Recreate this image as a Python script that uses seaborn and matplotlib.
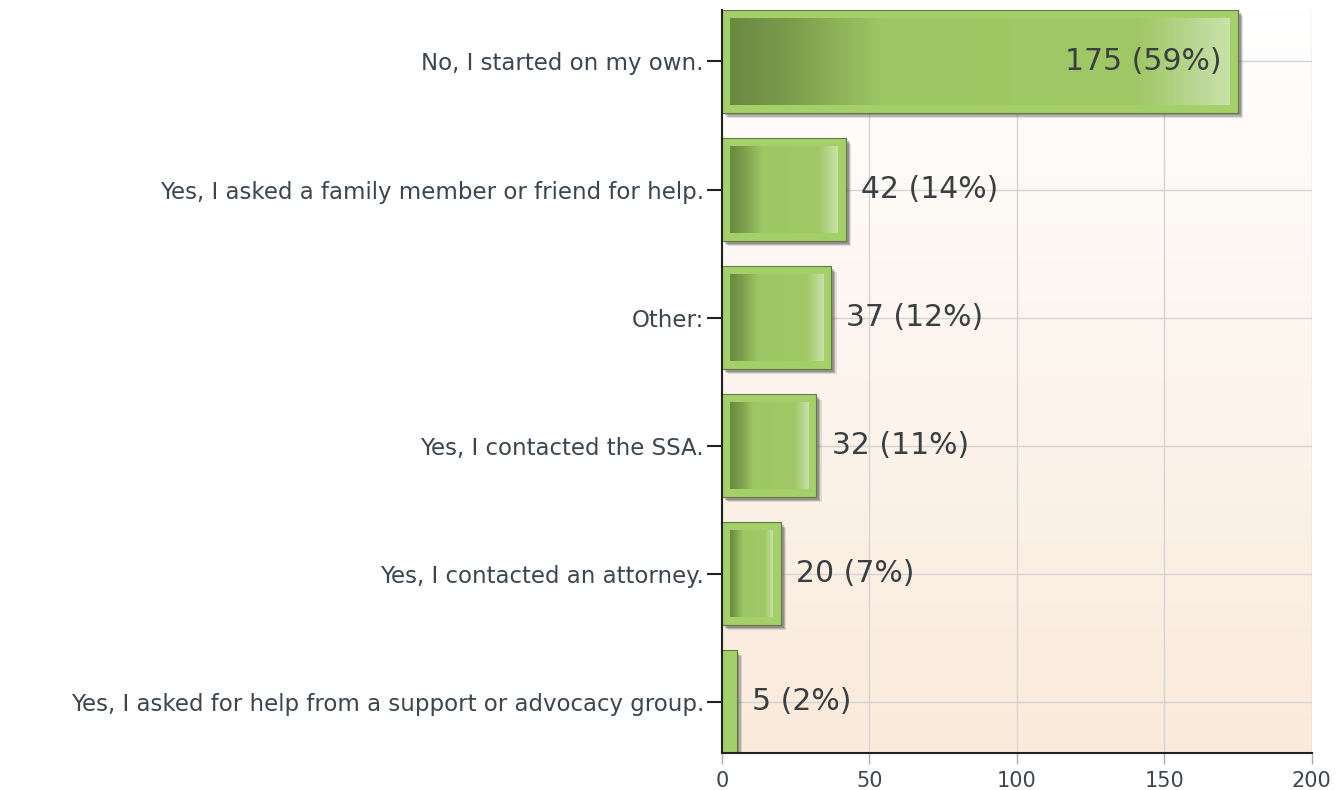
import numpy as np
import pandas as pd
import seaborn as sns
import matplotlib
matplotlib.use('Agg')
import matplotlib.pyplot as plt
from matplotlib import patheffects as pe
from matplotlib.colors import LinearSegmentedColormap

answers = [
  'No, I started on my own.',
  'Yes, I asked a family member or friend for help.',
  'Other:',
  'Yes, I contacted the SSA.',
  'Yes, I contacted an attorney.',
  'Yes, I asked for help from a support or advocacy group.',
]
counts = [175, 42, 37, 32, 20, 5]
percents = [59, 14, 12, 11, 7, 2]
xticks = [0, 50, 100, 150, 200]

df = pd.DataFrame({'answer': answers, 'count': counts})

sns.set_style('white')
plt.rcParams['font.family'] = ['DejaVu Sans']

fig = plt.figure(figsize=(13.37, 7.9), dpi=100)
ax = fig.add_axes([0.54, 0.047, 0.441, 0.94])

sns.barplot(data=df, x='count', y='answer', orient='h', color='#a3d068',
            saturation=1, edgecolor='#627a44', linewidth=0.8, width=0.8,
            ax=ax, zorder=3)

xlim = (0, 200)
ylim = (5.4, -0.4)

# bar shading: soft shadow + inner horizontal gradient
bar_cmap = LinearSegmentedColormap.from_list('bar', [
  (0.0, '#6b8942'), (0.12, '#7c9c4c'), (0.3, '#9dc764'),
  (0.82, '#a0c866'), (1.0, '#c9e1ab')])
grad = np.linspace(0, 1, 256).reshape(1, -1)
px_x = 590 / 200   # pixels per data unit (x)
px_y = 743 / 5.8   # pixels per data unit (y)
for p in ax.patches:
  p.set_path_effects([
    pe.SimplePatchShadow(offset=(4, -4), shadow_rgbFace='#666666', alpha=0.18),
    pe.SimplePatchShadow(offset=(3, -3), shadow_rgbFace='#555555', alpha=0.3),
    pe.SimplePatchShadow(offset=(2, -2), shadow_rgbFace='#444444', alpha=0.3),
    pe.Normal()])
  x0, y0 = p.get_x(), p.get_y()
  w, h = p.get_width(), p.get_height()
  ix, iy = 8 / px_x, 8 / px_y
  if w > 3 * ix:
    ax.imshow(grad, cmap=bar_cmap, aspect='auto', interpolation='bilinear',
              extent=(x0 + ix, x0 + w - ix, y0 + h - iy, y0 + iy), zorder=4)

# background gradient
bg_cmap = LinearSegmentedColormap.from_list('bg', ['#ffffff', '#faeadb'])
ax.imshow(np.linspace(0, 1, 256).reshape(-1, 1), cmap=bg_cmap, aspect='auto',
          extent=(xlim[0], xlim[1], ylim[0], ylim[1]), zorder=0.1)

# value labels
for i, (c, pc) in enumerate(zip(counts, percents)):
  label = f'{c} ({pc}%)'
  if c > 100:
    ax.annotate(label, (c, i), xytext=(-12, 0), textcoords='offset points',
                ha='right', va='center', fontsize=21.5, color='#3a3f42', zorder=6)
  else:
    ax.annotate(label, (c, i), xytext=(11, 0), textcoords='offset points',
                ha='left', va='center', fontsize=21.5, color='#3a3f42', zorder=6)

ax.set_xlim(*xlim)
ax.set_ylim(*ylim)
ax.set_xticks(xticks)
ax.set_xlabel(None)
ax.set_ylabel(None)
ax.grid(True, color='#d4d4d4', linewidth=1)
ax.set_axisbelow(True)
for s in ['top', 'right']:
  ax.spines[s].set_visible(False)
for s in ['left', 'bottom']:
  ax.spines[s].set_color('#222222')
  ax.spines[s].set_linewidth(1.5)
  ax.spines[s].set_zorder(5)
ax.tick_params(axis='y', left=True, length=11, width=1.5, color='#222222',
               pad=2, labelsize=16.5, labelcolor='#3b4650')
ax.tick_params(axis='x', bottom=True, length=8, width=1, color='#aaaaaa',
               pad=5, labelsize=15, labelcolor='#3b4650')

plt.savefig('out.png', dpi=100)
